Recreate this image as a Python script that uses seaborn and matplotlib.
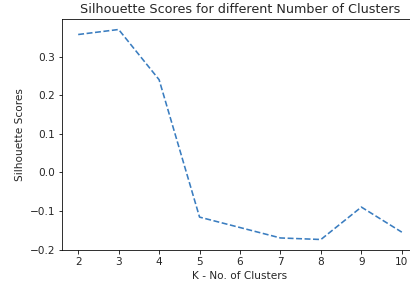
import matplotlib
matplotlib.use('Agg')
import matplotlib.pyplot as plt
import seaborn as sns
import pandas as pd

# Datos
k_values = [2, 3, 4, 5, 6, 7, 8, 9, 10]
silhouette = [0.357, 0.370, 0.240, -0.116, -0.143, -0.170, -0.174, -0.090, -0.155]

df = pd.DataFrame({'k': k_values, 'score': silhouette})

fig = plt.figure(figsize=(410 / 72, 282 / 72), dpi=72)
ax = fig.add_axes([62 / 410, 1 - 250 / 282, 356 / 410, 231 / 282])

sns.lineplot(data=df, x='k', y='score', ax=ax, color='#3a7dc0', linestyle='--', linewidth=1.6)

ax.set_xticks(k_values)
ax.set_yticks([-0.2, -0.1, 0.0, 0.1, 0.2, 0.3])
ax.set_xlabel('K - No. of Clusters', fontsize=10.5, color='#262626')
ax.set_ylabel('Silhouette Scores', fontsize=10.5, color='#262626')
ax.set_title('Silhouette Scores for different Number of Clusters', fontsize=12.7, color='#262626')
ax.tick_params(labelsize=10.5, labelcolor='#262626')

fig.savefig('out.png', dpi=72)
